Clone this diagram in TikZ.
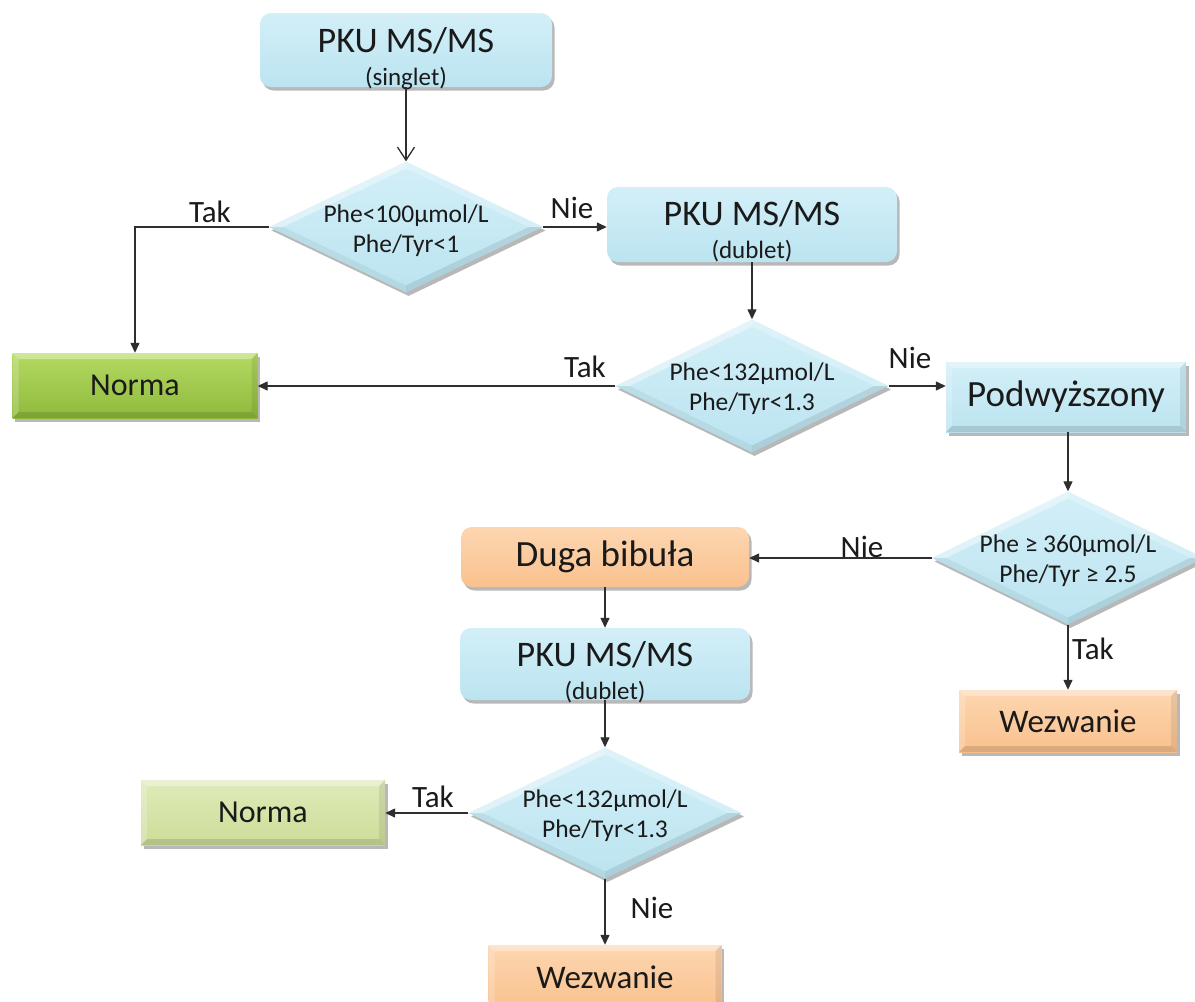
\documentclass[tikz,border=0pt]{standalone}
\usepackage{fontspec}
\setmainfont{Carlito}
\usetikzlibrary{arrows.meta,shapes.geometric,shadows}
\definecolor{blueT}{HTML}{D3EFF8}
\definecolor{blueB}{HTML}{BBE4F0}
\definecolor{greenT}{HTML}{B4D962}
\definecolor{greenB}{HTML}{8FBA3C}
\definecolor{lgreenT}{HTML}{DFEBB9}
\definecolor{lgreenB}{HTML}{CCDD98}
\definecolor{orangeT}{HTML}{FDD6B0}
\definecolor{orangeB}{HTML}{F9C18E}
\definecolor{txt}{HTML}{1A1A1A}
\definecolor{ln}{HTML}{2E2E2E}
\newcommand\myfs[1]{\fontsize{#1pt}{#1pt}\selectfont}
\def\ppb{path picture bounding box}
\tikzset{
  shadowed/.style={drop shadow={shadow xshift=2.5pt,shadow yshift=-3.5pt,opacity=.28,fill=black}},
  bluefill/.style={top color=blueT,bottom color=blueB},
  greenfill/.style={top color=greenT,bottom color=greenB},
  lgreenfill/.style={top color=lgreenT,bottom color=lgreenB},
  orangefill/.style={top color=orangeT,bottom color=orangeB},
  bevel/.style={path picture={
    \fill[white,opacity=.35] (\ppb.north west) -- (\ppb.north east) -- ([shift={(-6pt,-6pt)}]\ppb.north east) -- ([shift={(6pt,-6pt)}]\ppb.north west) -- cycle;
    \fill[white,opacity=.2] (\ppb.north west) -- (\ppb.south west) -- ([shift={(6pt,6pt)}]\ppb.south west) -- ([shift={(6pt,-6pt)}]\ppb.north west) -- cycle;
    \fill[black,opacity=.12] (\ppb.south west) -- (\ppb.south east) -- ([shift={(-6pt,6pt)}]\ppb.south east) -- ([shift={(6pt,6pt)}]\ppb.south west) -- cycle;
    \fill[black,opacity=.08] (\ppb.north east) -- (\ppb.south east) -- ([shift={(-6pt,6pt)}]\ppb.south east) -- ([shift={(-6pt,-6pt)}]\ppb.north east) -- cycle;
  }},
  dbevel/.style={path picture={
    \fill[white,opacity=.4] (\ppb.west) -- (\ppb.north) -- ([yshift=-7pt]\ppb.north) -- ([xshift=14pt]\ppb.west) -- cycle;
    \fill[white,opacity=.25] (\ppb.north) -- (\ppb.east) -- ([xshift=-14pt]\ppb.east) -- ([yshift=-7pt]\ppb.north) -- cycle;
    \fill[black,opacity=.05] (\ppb.west) -- (\ppb.south) -- ([yshift=7pt]\ppb.south) -- ([xshift=14pt]\ppb.west) -- cycle;
    \fill[black,opacity=.09] (\ppb.south) -- (\ppb.east) -- ([xshift=-14pt]\ppb.east) -- ([yshift=7pt]\ppb.south) -- cycle;
  }},
  rbox/.style={rectangle,rounded corners=11pt,shadowed,inner sep=0pt,text=txt},
  sbox/.style={rectangle,shadowed,bevel,inner sep=0pt,text=txt},
  dia/.style={diamond,shadowed,bluefill,dbevel,inner sep=0pt},
  ttl/.style={anchor=base,font=\myfs{36},text=txt,inner sep=0pt},
  sub/.style={anchor=base,font=\myfs{25},text=txt,inner sep=0pt},
  dtx/.style={anchor=base,font=\myfs{25.5},text=txt,inner sep=0pt},
  lbl/.style={font=\myfs{31},text=txt,inner sep=0pt},
  conn/.style={draw=ln,line width=1.3pt},
  arr/.style={-{Triangle[length=10pt,width=9pt]}},
  openarr/.style={-{Straight Barb[length=13pt,width=17pt]}}
}
\begin{document}
\begin{tikzpicture}[x=1pt,y=-1pt]
\useasboundingbox (0,0) rectangle (1195,1002);
\fill[white] (0,0) rectangle (1195,1002);

% top box
\node[rbox,bluefill,minimum width=292pt,minimum height=74pt] (a) at (406,50) {};
\node[ttl] (a1) at (406,52) {PKU MS/MS};
\node[sub] (a2) at (406,85) {(singlet)};

% diamond 1
\node[dia,minimum width=274pt,minimum height=131pt] (d1) at (406,227) {};
\node[dtx] (d1a) at (406,222) {Phe<100μmol/L};
\node[dtx] (d1b) at (406,252) {Phe/Tyr<1};

% box B
\node[rbox,bluefill,minimum width=290pt,minimum height=75pt] (b) at (752,224.5) {};
\node[ttl] (b1) at (752,225) {PKU MS/MS};
\node[sub] (b2) at (752,258) {(dublet)};

% diamond 2
\node[dia,minimum width=273pt,minimum height=133pt] (d2) at (752,386) {};
\node[dtx] (d2a) at (752,380) {Phe<132μmol/L};
\node[dtx] (d2b) at (752,410) {Phe/Tyr<1.3};

% Norma 1
\node[sbox,greenfill,minimum width=245pt,minimum height=65pt,font=\myfs{32}] (n1) at (135,385.5) {Norma};

% Podwyzszony
\node[sbox,bluefill,minimum width=240pt,minimum height=70pt,font=\myfs{37}] (pod) at (1066,397) {Podwyższony};

% diamond 3
\node[dia,minimum width=272pt,minimum height=133pt] (d3) at (1068,558) {};
\node[dtx] (d3a) at (1068,552) {Phe ≥ 360μmol/L};
\node[dtx] (d3b) at (1068,582) {Phe/Tyr ≥ 2.5};

% Wezwanie 1
\node[sbox,orangefill,minimum width=218pt,minimum height=62pt,font=\myfs{33}] (w1) at (1068,721) {Wezwanie};

% Duga bibula
\node[rbox,orangefill,minimum width=288pt,minimum height=60pt,font=\myfs{37}] (duga) at (605,557) {Duga bibuła};

% PKU 2
\node[rbox,bluefill,minimum width=290pt,minimum height=72pt] (p2) at (605,664) {};
\node[ttl] (p2a) at (605,666) {PKU MS/MS};
\node[sub] (p2b) at (605,699) {(dublet)};

% diamond 4
\node[dia,minimum width=273pt,minimum height=131pt] (d4) at (605,813) {};
\node[dtx] (d4a) at (605,807) {Phe<132μmol/L};
\node[dtx] (d4b) at (605,837) {Phe/Tyr<1.3};

% Norma 2
\node[sbox,lgreenfill,minimum width=244pt,minimum height=65pt,font=\myfs{32}] (n2) at (263,812.5) {Norma};

% Wezwanie 2
\node[sbox,orangefill,minimum width=233pt,minimum height=64pt,font=\myfs{33}] (w2) at (605,977) {Wezwanie};

% labels
\node[lbl] (t1) at (210,212) {Tak};
\node[lbl] (t2) at (572,208) {Nie};
\node[lbl] (t3) at (585,367) {Tak};
\node[lbl] (t4) at (910,358) {Nie};
\node[lbl] (t5) at (862,547) {Nie};
\node[lbl] (t6) at (1093,649) {Tak};
\node[lbl] (t7) at (433,797) {Tak};
\node[lbl] (t8) at (652,908) {Nie};

% connectors
\draw[conn,openarr] (a) -- (d1);
\draw[conn,arr] (d1.east) -- (d1.east -| b.west);
\draw[conn,arr] (d1.west) -- (d1.west -| n1.north) -- (n1.north);
\draw[conn,arr] (b.south) -- (d2.north);
\draw[conn,arr] (d2.west) -- (d2.west -| n1.east);
\draw[conn,arr] (d2.east) -- (d2.east -| pod.west);
\draw[conn,arr] (d3.north |- pod.south) -- (d3.north);
\draw[conn,arr] (d3.west) -- (d3.west -| duga.east);
\draw[conn,arr] (d3.south) -- (d3.south |- w1.north);
\draw[conn,arr] (duga.south) -- (p2.north);
\draw[conn,arr] (p2.south) -- (d4.north);
\draw[conn,arr] (d4.west) -- (d4.west -| n2.east);
\draw[conn,arr] (d4.south) -- (w2.north);
\end{tikzpicture}
\end{document}
